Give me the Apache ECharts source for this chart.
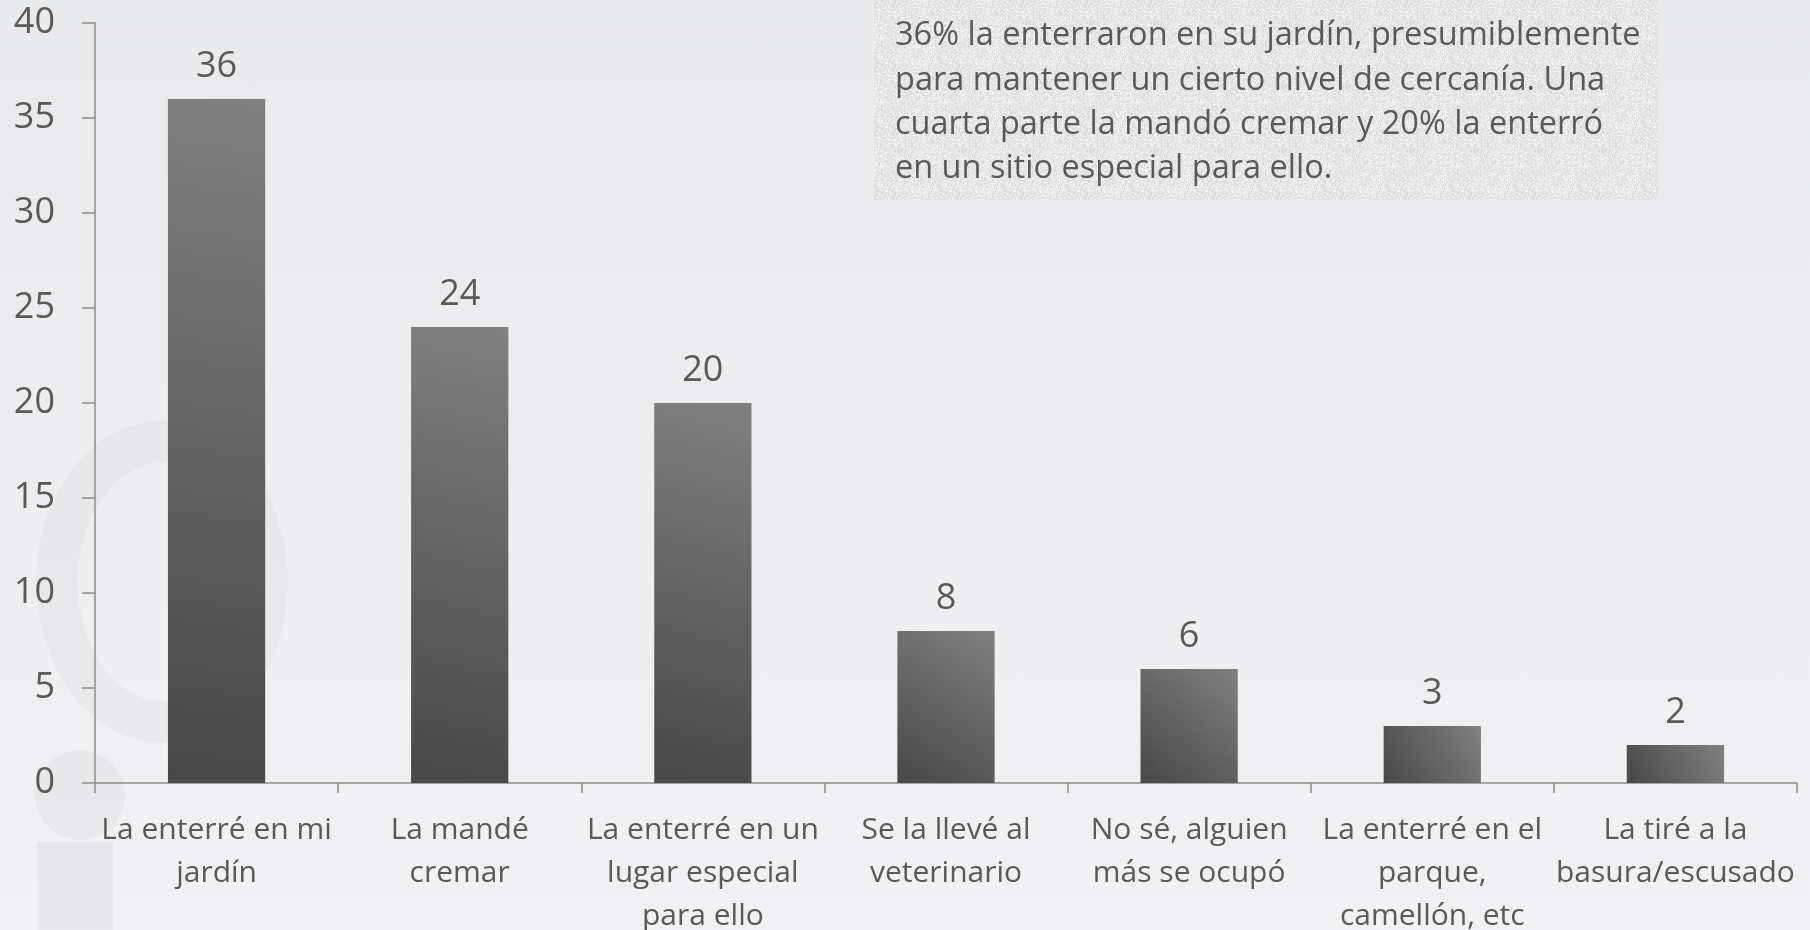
<!DOCTYPE html>
<html>
<head>
<meta charset="utf-8">
<script src="https://cdn.jsdelivr.net/npm/echarts@6/dist/echarts.min.js"></script>
<style>
  html, body { margin: 0; padding: 0; }
  #chart {
    width: 1810px;
    height: 930px;
    background: linear-gradient(to bottom, #e8e9eb 0%, #eeeef0 60%, #f1f1f3 100%);
  }
</style>
</head>
<body>
<div id="chart"></div>
<script>
// categorias (con los saltos de linea del original)
const categories = [
  'La enterré en mi\njardín',
  'La mandé\ncremar',
  'La enterré en un\nlugar especial\npara ello',
  'Se la llevé al\nveterinario',
  'No sé, alguien\nmás se ocupó',
  'La enterré en el\nparque,\ncamellón, etc',
  'La tiré a la\nbasura/escusado'
]
const values = [36, 24, 20, 8, 6, 3, 2]
const yMin = 0
const yMax = 40
const yStep = 5
const noteLines = [
  '36% la enterraron en su jardín, presumiblemente',
  'para mantener un cierto nivel de cercanía. Una',
  'cuarta parte la mandó cremar y 20% la enterró',
  'en un sitio especial para ello.'
]

const textColor = '#595959'
const axisColor = '#8c8c8c'

// textura clara del recuadro (ruido fijo, sin aleatorios)
function makeTexture() {
  const c = document.createElement('canvas')
  c.width = 64
  c.height = 64
  const ctx = c.getContext('2d')
  ctx.fillStyle = '#e3e3e3'
  ctx.fillRect(0, 0, 64, 64)
  for (let y = 0; y < 64; y++) {
    for (let x = 0; x < 64; x++) {
      const h = Math.abs(Math.sin(x * 12.9898 + y * 78.233) * 43758.5453) % 1
      if (h > 0.6) {
        const v = 232 + Math.round((h - 0.6) * 40)
        ctx.fillStyle = 'rgb(' + v + ',' + v + ',' + v + ')'
        ctx.fillRect(x, y, 1, 1)
      } else if (h < 0.12) {
        ctx.fillStyle = '#d6d6d6'
        ctx.fillRect(x, y, 1, 1)
      }
    }
  }
  return c
}

const chart = echarts.init(document.getElementById('chart'))
chart.setOption({
  backgroundColor: 'transparent',
  animation: false,
  grid: {
    left: 95,
    right: 13,
    top: 23,
    bottom: 147,
    containLabel: false,
    outerBoundsMode: 'none',
  },
  xAxis: {
    type: 'category',
    data: categories,
    axisLine: { lineStyle: { color: axisColor, width: 1.5 } },
    axisTick: { show: true, length: 10, lineStyle: { color: axisColor, width: 1.5 } },
    axisLabel: {
      interval: 0,
      color: textColor,
      fontFamily: '"Open Sans", sans-serif',
      fontSize: 30,
      lineHeight: 43,
      margin: 26,
    },
  },
  yAxis: {
    type: 'value',
    min: yMin,
    max: yMax,
    interval: yStep,
    splitLine: { show: false },
    axisLine: { show: true, lineStyle: { color: axisColor, width: 1.5 } },
    axisTick: { show: true, length: 13, lineStyle: { color: axisColor, width: 1.5 } },
    axisLabel: {
      color: textColor,
      fontFamily: '"Open Sans", sans-serif',
      fontSize: 36,
      margin: 40,
    },
  },
  graphic: [
    // marca de agua del fondo
    {
      type: 'ellipse',
      z: -10,
      shape: { cx: 162, cy: 582, rx: 105, ry: 140 },
      style: { fill: 'none', stroke: 'rgba(0,0,0,0.025)', lineWidth: 42 },
      silent: true,
    },
    {
      type: 'circle',
      z: -10,
      shape: { cx: 80, cy: 795, r: 45 },
      style: { fill: 'rgba(0,0,0,0.03)' },
      silent: true,
    },
    {
      type: 'rect',
      z: -10,
      shape: { x: 37, y: 842, width: 76, height: 88 },
      style: { fill: 'rgba(0,0,0,0.035)' },
      silent: true,
    },
    // recuadro de texto
    {
      type: 'rect',
      z: 5,
      shape: { x: 874, y: 0, width: 784, height: 200 },
      style: { fill: { image: makeTexture(), repeat: 'repeat' } },
      silent: true,
    },
    {
      type: 'text',
      z: 6,
      left: 895,
      top: 14,
      style: {
        text: noteLines.join('\n'),
        fill: textColor,
        font: '32.5px "Open Sans", sans-serif',
        lineHeight: 44.3,
      },
      silent: true,
    },
  ],
  series: [
    {
      type: 'bar',
      data: values,
      barWidth: '40%',
      itemStyle: {
        color: new echarts.graphic.LinearGradient(0, 1, 1, 0, [
          { offset: 0, color: '#484848' },
          { offset: 1, color: '#808080' },
        ]),
      },
      label: {
        show: true,
        position: 'top',
        distance: 14,
        color: textColor,
        fontFamily: '"Open Sans", sans-serif',
        fontSize: 36,
      },
    },
  ],
})
</script>
</body>
</html>
